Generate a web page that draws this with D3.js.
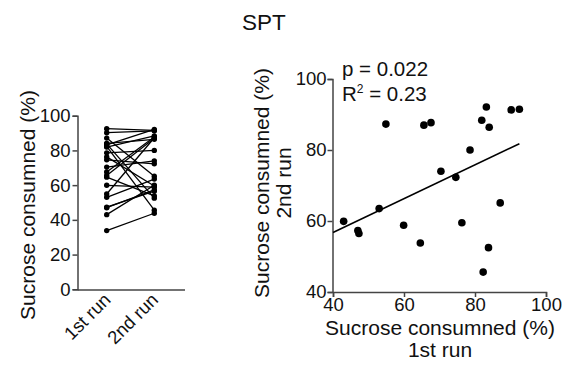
<!DOCTYPE html>
<html>
<head>
<meta charset="utf-8">
<script src="https://cdn.jsdelivr.net/npm/d3@7"></script>
<style>
  body { margin: 0; background: #fff; }
  svg text { font-family: "Liberation Sans", Arial, sans-serif; fill: #111; }
</style>
</head>
<body>
<svg id="chart" width="570" height="366"></svg>
<script>
// paired values, same animal in both runs
const firstRun  = [43.0, 47.0, 47.3, 53.0, 54.9, 59.9, 64.6, 65.6, 67.6, 70.4, 74.6, 76.3, 78.6, 81.9, 83.2, 84.0, 82.3, 83.8, 87.1, 90.2, 92.5, 33.8];
const secondRun = [59.9, 57.3, 56.5, 63.5, 87.3, 58.8, 53.8, 87.0, 87.7, 74.0, 72.3, 59.5, 80.0, 88.4, 92.1, 86.4, 45.6, 52.5, 65.1, 91.3, 91.5, 43.8];
const runLabels = ["1st run", "2nd run"];
const leftTicks = [0, 20, 40, 60, 80, 100];
const scatterTicks = [40, 60, 80, 100];
const stats = ["p = 0.022", "R2 = 0.23"];

let svg = d3.select("#chart");
let pairs = firstRun.map((v, i) => ({ a: v, b: secondRun[i] }));

svg.append("text")
    .attr("x", 264).attr("y", 30)
    .style("text-anchor", "middle")
    .style("font-size", "22.5px")
    .text("SPT");

// ---- left panel: before / after
let xRun = d3.scalePoint().domain(runLabels).range([106.7, 154.3]);
let yLeft = d3.scaleLinear().domain([0, 100]).range([289.3, 115.7]);

let left = svg.append("g");

left.append("g")
    .attr("transform", "translate(77.5,0)")
    .call(d3.axisLeft(yLeft).tickValues(leftTicks).tickSize(5).tickPadding(2))
    .call(g => g.selectAll("text").style("font-size", "18.5px"))
    .call(g => g.selectAll("path,line").style("stroke", "#444").style("stroke-width", "1.5px"));

left.append("line")
    .attr("x1", 77.5).attr("x2", 185)
    .attr("y1", 290).attr("y2", 290)
    .style("stroke", "#444").style("stroke-width", "1.5px");

runLabels.forEach(r => {
    left.append("text")
        .attr("transform", `translate(${xRun(r) + 5},301) rotate(-45)`)
        .style("text-anchor", "end")
        .style("font-size", "18.5px")
        .text(r);
});

left.selectAll(".pair")
    .data(pairs)
    .enter()
    .append("line")
    .attr("x1", xRun(runLabels[0])).attr("x2", xRun(runLabels[1]))
    .attr("y1", d => yLeft(d.a)).attr("y2", d => yLeft(d.b))
    .style("stroke", "#000").style("stroke-width", "1.3px");

[["a", runLabels[0]], ["b", runLabels[1]]].forEach(([k, r]) => {
    left.selectAll(".dot" + k)
        .data(pairs)
        .enter()
        .append("circle")
        .attr("cx", xRun(r))
        .attr("cy", d => yLeft(d[k]))
        .attr("r", 2.7)
        .style("fill", "#000");
});

left.append("text")
    .attr("transform", "translate(35,205) rotate(-90)")
    .style("text-anchor", "middle")
    .style("font-size", "21px")
    .text("Sucrose consumned (%)");

// ---- right panel: scatter + regression
let xS = d3.scaleLinear().domain([40, 100]).range([333, 546]);
let yS = d3.scaleLinear().domain([40, 100]).range([292, 79]);

let right = svg.append("g");

right.append("g")
    .attr("transform", "translate(0,292)")
    .call(d3.axisBottom(xS).tickValues(scatterTicks).tickSize(5).tickPadding(1))
    .call(g => g.selectAll("text").style("font-size", "18.5px"))
    .call(g => g.selectAll("path,line").style("stroke", "#444").style("stroke-width", "1.5px"));

right.append("g")
    .attr("transform", "translate(332.5,0)")
    .call(d3.axisLeft(yS).tickValues(scatterTicks).tickSize(5).tickPadding(1))
    .call(g => g.selectAll("text").style("font-size", "18.5px"))
    .call(g => g.selectAll("path,line").style("stroke", "#444").style("stroke-width", "1.5px"));

// least squares over all pairs
let mx = d3.mean(firstRun), my = d3.mean(secondRun);
let sxy = d3.sum(pairs, d => (d.a - mx) * (d.b - my));
let sxx = d3.sum(pairs, d => (d.a - mx) * (d.a - mx));
let slope = sxy / sxx, icpt = my - slope * mx;
let x0 = xS.domain()[0], x1 = d3.max(firstRun);

right.append("line")
    .attr("x1", xS(x0)).attr("y1", yS(icpt + slope * x0))
    .attr("x2", xS(x1)).attr("y2", yS(icpt + slope * x1))
    .style("stroke", "#000").style("stroke-width", "1.6px");

right.selectAll(".pt")
    .data(pairs.filter(d => d.a >= 40 && d.b >= 40))
    .enter()
    .append("circle")
    .attr("cx", d => xS(d.a))
    .attr("cy", d => yS(d.b))
    .attr("r", 3.8)
    .style("fill", "#000");

right.append("text")
    .attr("x", 342).attr("y", 76)
    .style("font-size", "20.5px")
    .text(stats[0]);

let r2 = right.append("text")
    .attr("x", 342).attr("y", 101)
    .style("font-size", "20.5px");
r2.append("tspan").text("R");
r2.append("tspan").attr("dy", -8).style("font-size", "12px").text("2");
r2.append("tspan").attr("dy", 8).text(stats[1].slice(2));

right.append("text")
    .attr("transform", "translate(269,183) rotate(-90)")
    .style("text-anchor", "middle")
    .style("font-size", "21px")
    .text("Sucrose consumned (%)");
right.append("text")
    .attr("transform", "translate(291,183) rotate(-90)")
    .style("text-anchor", "middle")
    .style("font-size", "21px")
    .text("2nd run");

right.append("text")
    .attr("x", 440).attr("y", 335)
    .style("text-anchor", "middle")
    .style("font-size", "21px")
    .text("Sucrose consumned (%)");
right.append("text")
    .attr("x", 440).attr("y", 357)
    .style("text-anchor", "middle")
    .style("font-size", "21px")
    .text("1st run");
</script>
</body>
</html>
